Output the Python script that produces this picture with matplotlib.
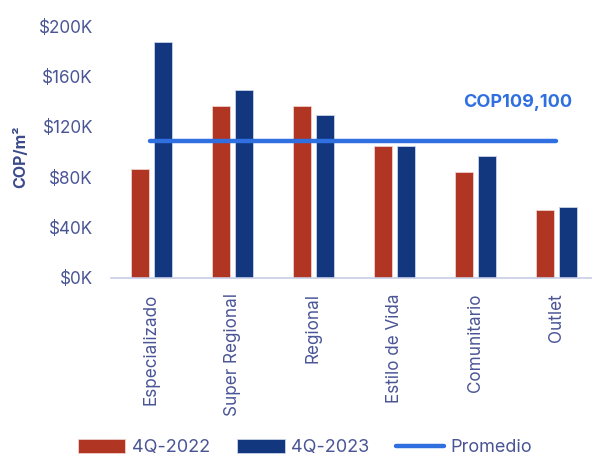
import matplotlib
matplotlib.use('agg')
import matplotlib.pyplot as plt
import numpy as np

categories = ["Especializado", "Super Regional", "Regional",
              "Estilo de Vida", "Comunitario", "Outlet"]
q4_2022 = [86.5, 136.5, 136.5, 104.8, 83.9, 53.7]
q4_2023 = [187.0, 149.4, 129.6, 104.8, 96.6, 56.3]
promedio = 109.1
promedio_label = "COP109,100"
yticks = [0, 40, 80, 120, 160, 200]
ytick_labels = ["$0K", "$40K", "$80K", "$120K", "$160K", "$200K"]

plt.rcParams['font.family'] = ['Inter', 'DejaVu Sans']

red = "#B03522"
navy = "#12377F"
line_blue = "#2F6FDF"
text_col = "#4A5596"

fig = plt.figure(figsize=(5.92, 4.57), dpi=100)
ax = fig.add_axes([0.1875, 0.3917, 0.8125, 0.5513])

x = np.arange(len(categories))
w = 0.225
b1 = ax.bar(x - 0.142, q4_2022, w, color=red, edgecolor="#f0d0cc",
            linewidth=0.6, label="4Q-2022", zorder=2)
b2 = ax.bar(x + 0.142, q4_2023, w, color=navy, edgecolor="#c9d3ea",
            linewidth=0.6, label="4Q-2023", zorder=2)
ln, = ax.plot([x[0] - 0.02, x[-1]], [promedio, promedio], color=line_blue,
              linewidth=3.2, solid_capstyle='round', label="Promedio",
              zorder=3)
ax.text(4.52, 139, promedio_label, color=line_blue, fontsize=13,
        fontweight='bold', ha='center', va='center')

ax.set_xlim(-0.5, 5.44)
ax.set_ylim(0, 200)
ax.set_yticks(yticks)
ax.set_yticklabels(ytick_labels)
ax.set_xticks(x)
ax.set_xticklabels(categories, rotation=90, va='top', ha='center')
ax.tick_params(axis='both', length=0, labelsize=12.3, labelcolor=text_col)
ax.tick_params(axis='y', pad=13)
ax.tick_params(axis='x', pad=11)
for s in ['top', 'right', 'left']:
    ax.spines[s].set_visible(False)
ax.spines['bottom'].set_color("#c8cde6")
ax.spines['bottom'].set_linewidth(1.2)

fig.text(0.035, 0.656, "COP/m²", rotation=90, ha='center', va='center',
         fontsize=11.5, fontweight='bold', color="#3B4A8A")

leg = fig.legend([b1, b2, ln], ["4Q-2022", "4Q-2023", "Promedio"],
                 loc='center', bbox_to_anchor=(0.515, 0.02), ncol=3,
                 frameon=False, fontsize=13, handlelength=2.65,
                 handleheight=0.8, handletextpad=0.35, columnspacing=1.5,
                 borderpad=0.1)
for t in leg.get_texts():
    t.set_color(text_col)

fig.savefig("out.png", dpi=100)
